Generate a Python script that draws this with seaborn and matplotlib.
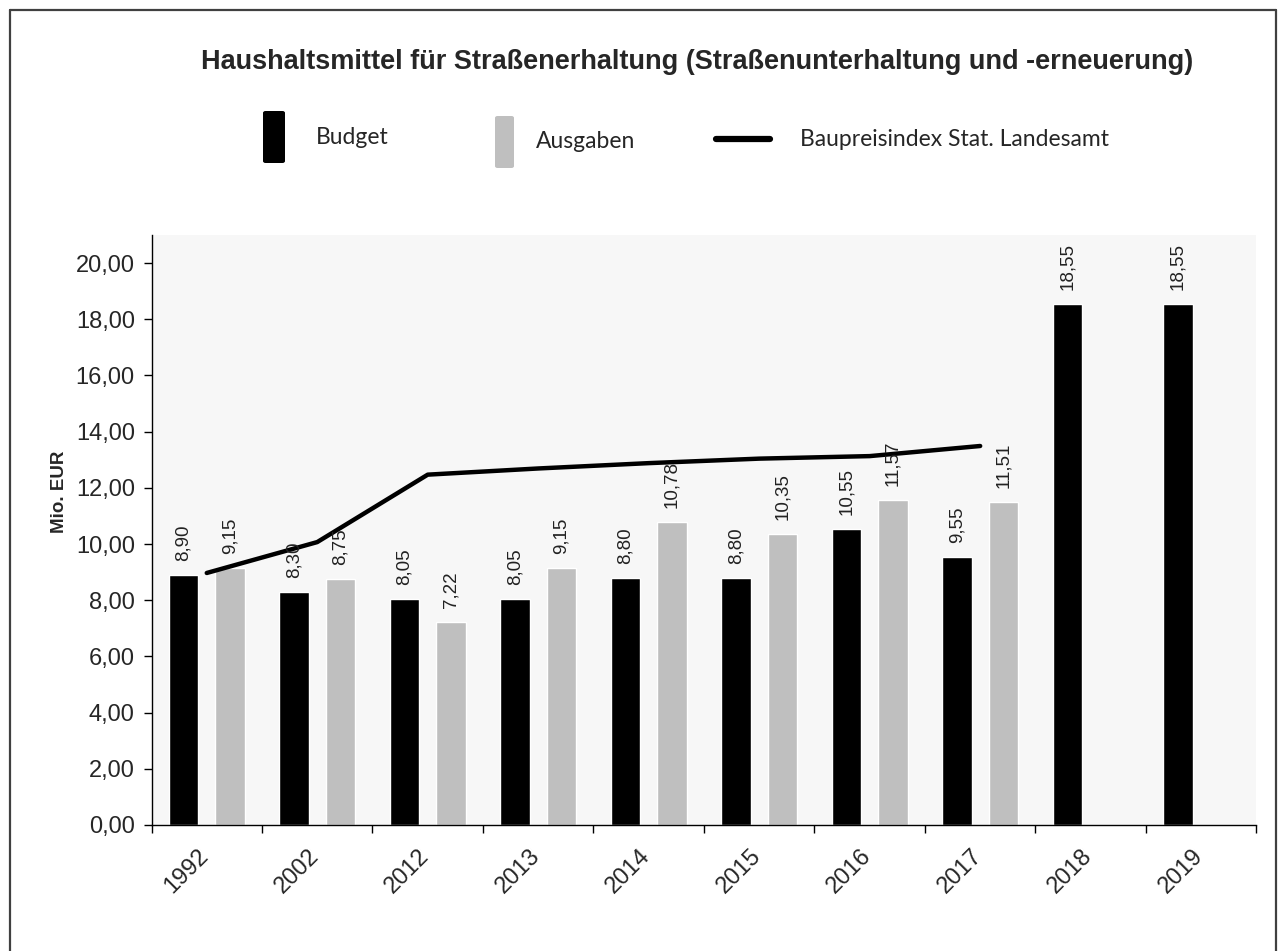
import matplotlib
matplotlib.use("Agg")
import matplotlib.pyplot as plt
from matplotlib.patches import FancyBboxPatch
from matplotlib.lines import Line2D
from matplotlib.ticker import FuncFormatter
import matplotlib.transforms as mtransforms
import seaborn as sns
import pandas as pd
import numpy as np

years = ["1992", "2002", "2012", "2013", "2014", "2015", "2016", "2017", "2018", "2019"]
budget = [8.90, 8.30, 8.05, 8.05, 8.80, 8.80, 10.55, 9.55, 18.55, 18.55]
ausgaben = [9.15, 8.75, 7.22, 9.15, 10.78, 10.35, 11.57, 11.51, np.nan, np.nan]
# Baupreisindex (scaled to the EUR axis)
baupreis = [8.97, 10.07, 12.47, 12.69, 12.88, 13.04, 13.13, 13.49]

series = ["Budget", "Ausgaben"]
colors = {"Budget": "black", "Ausgaben": "#bfbfbf"}

df = pd.DataFrame({
    "Jahr": years * 2,
    "Wert": budget + ausgaben,
    "Reihe": ["Budget"] * len(years) + ["Ausgaben"] * len(years),
})

sns.set_theme(style="ticks")
plt.rcParams["font.family"] = ["Liberation Sans", "DejaVu Sans"]

W, H = 1284, 951
fig = plt.figure(figsize=(W / 100, H / 100), dpi=100)


def fx(x, y):
    return x / W, 1 - y / H


ax = fig.add_axes([151.5 / W, 1 - 825 / H, (1256.4 - 151.5) / W, (825 - 235) / H])
ax.set_facecolor("#f7f7f7")

sns.barplot(data=df, x="Jahr", y="Wert", hue="Reihe", order=years, hue_order=series,
            palette=colors, saturation=1, width=0.84, gap=0.37, legend=False, ax=ax)
sns.lineplot(x=np.arange(len(baupreis)), y=baupreis, color="black", lw=3.2, ax=ax)

for cont in ax.containers:
    labels = ["" if np.isnan(v) else f"{v:.2f}".replace(".", ",") for v in cont.datavalues]
    ax.bar_label(cont, labels=labels, rotation=90, padding=10, fontsize=13.5, color="#222222")

ax.set_xlim(-0.5, len(years) - 0.5)
ax.set_ylim(0, 21)
ax.set_yticks(np.arange(0, 21, 2))
ax.yaxis.set_major_formatter(FuncFormatter(lambda v, p: f"{v:.2f}".replace(".", ",")))
ax.set_xticks(np.arange(len(years)))
ax.set_xticklabels(years, rotation=45, ha="right")
ax.set_xticks(np.arange(-0.5, len(years), 1), minor=True)
ax.tick_params(axis="x", which="major", length=0, pad=14, labelsize=17)
ax.tick_params(axis="x", which="minor", length=6, width=1, color="black")
ax.tick_params(axis="y", length=6, width=1, color="black", labelsize=17, pad=6)
offset = mtransforms.ScaledTranslation(6 / 100, 0, fig.dpi_scale_trans)
for lab in ax.get_xticklabels():
    lab.set_transform(lab.get_transform() + offset)
ax.set_xlabel("")
ax.set_ylabel("")
for s in ["top", "right"]:
    ax.spines[s].set_visible(False)
for s in ["left", "bottom"]:
    ax.spines[s].set_color("black")
    ax.spines[s].set_linewidth(1)

fig.text(*fx(60, 492), "Mio. EUR", rotation=90, ha="center", va="center",
         fontsize=13.5, fontweight="bold")

fig.text(*fx(697, 62), "Haushaltsmittel für Straßenerhaltung (Straßenunterhaltung und -erneuerung)",
         ha="center", va="center", fontsize=19.5, fontweight="bold")

# legend, drawn by hand like the original
for (x0, y0, x1, y1), c in [((263, 111, 285, 163), "black"), ((495, 116, 514, 168), "#bfbfbf")]:
    fig.add_artist(FancyBboxPatch(fx(x0, y1), (x1 - x0) / W, (y1 - y0) / H,
                                  boxstyle="round,pad=0,rounding_size=0.002",
                                  transform=fig.transFigure, facecolor=c, edgecolor="none"))
fig.add_artist(Line2D([716 / W, 770 / W], [1 - 139 / H] * 2, color="black", lw=4.5,
                      transform=fig.transFigure))
leg_font = dict(family=["Lato", "DejaVu Sans"], fontsize=16.5, va="center", ha="left")
fig.text(*fx(316, 138), "Budget", **leg_font)
fig.text(*fx(536, 142), "Ausgaben", **leg_font)
fig.text(*fx(800, 140), "Baupreisindex Stat. Landesamt", **leg_font)

# figure frame (left, top, right)
for xs, ys in [([9.5, 9.5], [H, 9.5]), ([9.5, 1275.5], [9.5, 9.5]), ([1275.5, 1275.5], [9.5, H])]:
    fig.add_artist(Line2D([x / W for x in xs], [1 - y / H for y in ys], color="#404040",
                          lw=1.6, transform=fig.transFigure))

fig.savefig("out.png", dpi=100)
